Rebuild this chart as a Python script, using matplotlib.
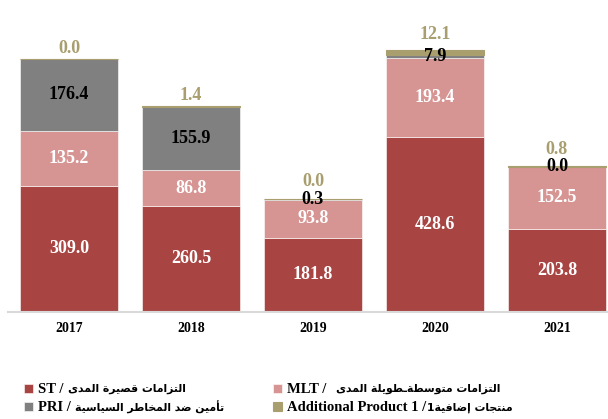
import numpy as np
import matplotlib
matplotlib.use("Agg")
import matplotlib.pyplot as plt

# datos
years = ['2017', '2018', '2019', '2020', '2021']
st = [309.0, 260.5, 181.8, 428.6, 203.8]
mlt = [135.2, 86.8, 93.8, 193.4, 152.5]
pri = [176.4, 155.9, 0.3, 7.9, 0.0]
addl = [0.0, 1.4, 0.0, 12.1, 0.8]

# leyenda: parte latina y parte arabe
lat = ['ST /', 'MLT /', 'PRI /', 'Additional Product 1 /']
ara = ['التزامات قصيرة المدى', 'التزامات متوسطةـطويلة المدى',
       'تأمين ضد المخاطر السياسية', 'منتجات إضافية1']

# formas de presentacion arabes: aislada, final, inicial, media
FORMS = {
    'ا': (0xFE8D, 0xFE8E), 'أ': (0xFE83, 0xFE84), 'إ': (0xFE87, 0xFE88),
    'ب': (0xFE8F, 0xFE90, 0xFE91, 0xFE92), 'ة': (0xFE93, 0xFE94),
    'ت': (0xFE95, 0xFE96, 0xFE97, 0xFE98), 'ج': (0xFE9D, 0xFE9E, 0xFE9F, 0xFEA0),
    'خ': (0xFEA5, 0xFEA6, 0xFEA7, 0xFEA8), 'د': (0xFEA9, 0xFEAA),
    'ر': (0xFEAD, 0xFEAE), 'ز': (0xFEAF, 0xFEB0),
    'س': (0xFEB1, 0xFEB2, 0xFEB3, 0xFEB4), 'ص': (0xFEB9, 0xFEBA, 0xFEBB, 0xFEBC),
    'ض': (0xFEBD, 0xFEBE, 0xFEBF, 0xFEC0), 'ط': (0xFEC1, 0xFEC2, 0xFEC3, 0xFEC4),
    'ف': (0xFED1, 0xFED2, 0xFED3, 0xFED4), 'ق': (0xFED5, 0xFED6, 0xFED7, 0xFED8),
    'ل': (0xFEDD, 0xFEDE, 0xFEDF, 0xFEE0), 'م': (0xFEE1, 0xFEE2, 0xFEE3, 0xFEE4),
    'ن': (0xFEE5, 0xFEE6, 0xFEE7, 0xFEE8), 'و': (0xFEED, 0xFEEE),
    'ى': (0xFEEF, 0xFEF0), 'ي': (0xFEF1, 0xFEF2, 0xFEF3, 0xFEF4),
}


def shape(s):
    out = []
    for i, ch in enumerate(s):
        if ch not in FORMS:
            out.append(ch)
            continue
        prev = s[i - 1] if i > 0 else ''
        nxt = s[i + 1] if i + 1 < len(s) else ''
        jp = prev == 'ـ' or (prev in FORMS and len(FORMS[prev]) == 4)
        jn = len(FORMS[ch]) == 4 and (nxt in FORMS or nxt == 'ـ')
        f = FORMS[ch]
        if jp and jn:
            c = f[3]
        elif jp:
            c = f[1]
        elif jn:
            c = f[2]
        else:
            c = f[0]
        out.append(chr(c))
    return ''.join(reversed(out))


c_st = '#A84543'
c_mlt = '#D69492'
c_pri = '#808080'
c_add = '#A89E6E'
fam = ['Liberation Serif', 'DejaVu Sans']
fam_ar = ['DejaVu Sans Condensed', 'DejaVu Sans']

W, H = 608, 419
fig = plt.figure(figsize=(W / 100, H / 100), dpi=100)
ax = fig.add_axes([8 / W, 107 / H, 600 / W, 312 / H])

x = np.arange(len(years))
w = 98 / 122
b_st = ax.bar(x, st, w, color=c_st, edgecolor='white', linewidth=0.4)
b_mlt = ax.bar(x, mlt, w, bottom=st, color=c_mlt, edgecolor='white', linewidth=0.4)
base2 = np.array(st) + np.array(mlt)
b_pri = ax.bar(x, pri, w, bottom=base2, color=c_pri, edgecolor='white', linewidth=0.4)
base3 = base2 + np.array(pri)
b_add = ax.bar(x, addl, w, bottom=base3, color=c_add, edgecolor=c_add, linewidth=0.8)

fs = 13
ax.bar_label(b_st, fmt='%.1f', label_type='center', color='white', fontsize=fs,
             fontweight='bold', family=fam)
ax.bar_label(b_mlt, fmt='%.1f', label_type='center', color='white', fontsize=fs,
             fontweight='bold', family=fam)
ax.bar_label(b_pri, fmt='%.1f', label_type='center', color='black', fontsize=fs,
             fontweight='bold', family=fam)
# etiquetas de producto adicional encima, mas separadas si hay etiqueta PRI arriba
pad_add = [1.5, 1.5, 6.5, 5.0, 6.0]
for rect, v, p in zip(b_add, addl, pad_add):
    ax.annotate(f'{v:.1f}', (rect.get_x() + rect.get_width() / 2, rect.get_y() + rect.get_height()),
                xytext=(0, p), textcoords='offset points', ha='center', va='bottom',
                color=c_add, fontsize=fs, fontweight='bold', family=fam)

ax.set_xlim(-0.5, -0.5 + 600 / 122)
ax.set_ylim(0, 765)
ax.set_xticks(x)
ax.set_xticklabels(years, fontsize=10, fontweight='bold', family=fam)
ax.tick_params(axis='x', length=0, pad=7)
ax.set_yticks([])
for s in ['top', 'left', 'right']:
    ax.spines[s].set_visible(False)
ax.spines['bottom'].set_color('#D9D9D9')
ax.spines['bottom'].set_linewidth(1.5)

prop = {'family': fam, 'weight': 'bold', 'size': 10.5}
leg_kw = dict(frameon=False, prop=prop, handlelength=0.6, handleheight=0.6,
              handletextpad=0.35, labelspacing=0.35, borderpad=0, loc='upper left')
leg1 = fig.legend([b_st, b_pri], [lat[0], lat[2]],
                  bbox_to_anchor=(17 / W, 1 - 376 / H), **leg_kw)
leg2 = fig.legend([b_mlt, b_add], [lat[1], lat[3]],
                  bbox_to_anchor=(266 / W, 1 - 376 / H), **leg_kw)

# texto arabe a continuacion de cada entrada
fig.canvas.draw()
r = fig.canvas.get_renderer()
gaps = [[4, 4], [9, 1]]
for leg, idx, gp in [(leg1, [0, 2], gaps[0]), (leg2, [1, 3], gaps[1])]:
    for t, i, g in zip(leg.get_texts(), idx, gp):
        bb = t.get_window_extent(r)
        fig.text((bb.x1 + g) / W, (bb.y0 + bb.y1) / 2 / H + 0.5 / H, shape(ara[i]),
                 ha='left', va='center', fontsize=7.8, fontweight='bold', family=fam_ar)

fig.savefig('out.png', dpi=100)
